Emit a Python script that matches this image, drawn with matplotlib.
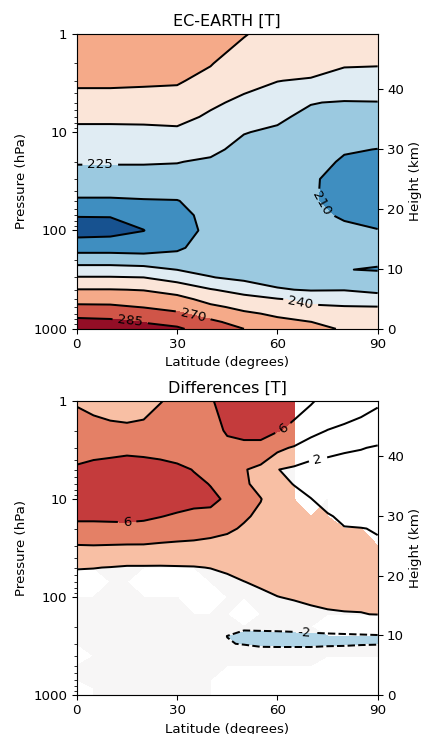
import numpy as np
import matplotlib
matplotlib.use('Agg')
import matplotlib.pyplot as plt

#### --------------------------------------------------- data

# EC-EARTH zonal mean temperature [K], one list per latitude (top -> bottom in pressure)
lat_t = [0, 10, 20, 30, 40, 50, 60, 70, 80, 90]
plev_t = [1, 2, 3, 5, 7, 10, 15, 20, 30, 50, 70, 100, 150, 200, 250, 300, 400, 500, 600, 700, 850, 1000]

t_lat0 = [265, 262, 257, 250, 243, 236, 231, 226, 219, 208, 195.5, 190, 204, 220, 230, 241, 255.5, 265, 273, 281, 289, 294]
t_lat10 = [265, 262, 257, 250, 243, 236, 231, 226, 219, 208, 195.5, 191, 204, 220, 230, 241, 255.5, 265, 272.5, 280, 288, 293]
t_lat20 = [264, 261, 256.5, 250, 243, 236.5, 231, 226, 219, 209, 198, 194.8, 203, 219, 229, 240, 254.5, 262, 269.5, 277, 284.5, 289]
t_lat30 = [263, 260, 256, 250, 244, 237, 230, 225.5, 219, 209.5, 205, 203, 208, 216, 224.8, 234, 250.5, 259, 266, 272, 281, 287]
t_lat40 = [259, 255.5, 252, 242, 238, 234, 228, 223, 218, 216, 215, 214, 216, 219, 222, 225.5, 241, 251, 257.5, 264, 273, 278]
t_lat50 = [255.5, 250, 243, 237.5, 232, 225.5, 221, 219, 217, 216, 216, 216.5, 217.5, 218.5, 220, 222, 234, 246, 252, 257, 264, 270]
t_lat60 = [252, 245, 240.2, 234, 227, 223, 220, 218, 216, 215, 215, 215.5, 216, 217, 219, 221, 226, 241, 247, 253, 258, 263]
t_lat70 = [250, 244, 239, 225.5, 222, 219, 216.5, 214.5, 211.5, 211, 212, 213, 214, 215, 216.5, 219, 224, 236, 242, 247, 255.1, 258]
t_lat80 = [248, 241, 236, 224, 220, 216, 211, 208.5, 206, 206.5, 209, 212, 213, 213, 210.2, 215, 224.5, 233, 241, 244, 250, 254]
t_lat90 = [246, 241, 234, 224.5, 219, 214, 209.8, 206, 203, 203.5, 206, 210.5, 212, 211, 209.5, 213, 222, 231, 240.5, 245, 249, 251]

t_levels = [180, 195, 210, 225, 240, 255, 270, 285, 300]
t_labelled = [210, 225, 240, 270, 285]

# differences [K], one row per pressure level
lat_d = [0, 5, 10, 15, 20, 25, 30, 35, 40, 45, 50, 55, 60, 65, 70, 75, 80, 85, 90]
plev_d = [1, 2, 3, 5, 7, 10, 15, 20, 30, 50, 70, 100, 150, 200, 250, 300, 400, 500, 700, 850, 1000]

diff = [
    [3.9, 3.6, 3.3, 3.2, 3.4, 3.95, 4.3, 4.8, 5.85, 6.6, 7.0, 7.0, 6.8, 6.5, 6.15, 5.5, 5.0, 4.6, 4.2],
    [4.6, 4.6, 4.5, 4.4, 4.5, 4.8, 5.0, 5.3, 5.5, 6.15, 6.4, 6.4, 6.1, 5.6, 4.6, 3.95, 3.6, 3.3, 3.0],
    [5.2, 5.5, 5.6, 5.7, 5.6, 5.55, 5.4, 5.6, 5.3, 5.6, 5.6, 5.6, 4.4, 3.8, 2.9, 2.6, 2.3, 2.1, 1.8],
    [6.3, 6.5, 6.6, 6.7, 6.7, 6.5, 6.3, 5.95, 5.5, 5.0, 4.15, 3.4, 2.05, 1.6, 1.2, 1.0, 0.8, 0.7, 0.6],
    [6.8, 6.9, 7.0, 7.1, 7.0, 6.9, 6.7, 6.3, 5.95, 5.3, 4.2, 3.6, 2.4, 1.95, 1.4, 0.9, 0.6, 0.5, 0.4],
    [7.0, 7.1, 7.2, 7.3, 7.2, 7.0, 6.6, 6.3, 6.3, 5.8, 4.4, 4.05, 3.2, 2.5, 2.05, 1.3, 0.8, 0.6, 0.5],
    [6.3, 6.3, 6.35, 6.4, 6.3, 6.05, 5.8, 5.7, 5.6, 5.2, 4.2, 3.7, 3.3, 3.0, 2.8, 2.2, 1.6, 1.4, 1.2],
    [5.5, 5.5, 5.5, 5.5, 5.4, 5.2, 5.0, 4.9, 4.7, 4.3, 3.8, 3.3, 3.1, 2.9, 2.9, 2.6, 2.1, 2.05, 1.9],
    [3.9, 3.95, 3.9, 3.85, 3.85, 3.7, 3.6, 3.5, 3.3, 3.2, 3.0, 2.9, 2.8, 2.7, 2.7, 2.6, 2.4, 2.3, 2.2],
    [2.1, 2.05, 1.95, 1.8, 1.8, 1.8, 1.85, 1.9, 2.05, 2.2, 2.4, 2.5, 2.5, 2.5, 2.6, 2.5, 2.5, 2.4, 2.4],
    [1.2, 1.2, 1.2, 1.1, 1.0, 1.0, 1.0, 1.0, 1.1, 1.7, 1.98, 2.2, 2.3, 2.35, 2.5, 2.5, 2.5, 2.4, 2.4],
    [0.6, 0.6, 0.6, 0.6, 0.5, 0.5, 0.5, 0.5, 0.6, 1.0, 1.2, 1.7, 1.98, 2.1, 2.3, 2.4, 2.4, 2.3, 2.3],
    [0.4, 0.4, 0.3, 0.3, 0.3, 0.3, 0.3, 0.3, 0.4, 0.5, 0.5, 1.0, 1.2, 1.5, 1.6, 1.8, 1.9, 1.95, 2.05],
    [0.2, 0.2, 0.2, 0.2, 0.1, 0.1, 0.0, 0.0, -0.3, -0.8, -1.5, -1.4, -1.3, -1.2, -1.0, -0.8, -0.7, -0.6, -0.5],
    [0.1, 0.1, 0.1, 0.0, 0.0, -0.1, -0.1, -0.3, -1.2, -2.02, -2.8, -2.8, -2.8, -2.7, -2.6, -2.5, -2.4, -2.3, -2.2],
    [0.1, 0.1, 0.0, 0.0, 0.0, -0.1, -0.2, -0.3, -1.1, -1.9, -2.1, -2.4, -2.4, -2.4, -2.4, -2.3, -2.25, -2.15, -2.1],
    [0.2, 0.2, 0.1, 0.1, 0.1, 0.0, 0.0, -0.1, -0.4, -0.6, -0.5, -0.6, -0.7, -0.7, -0.7, -0.6, -0.6, -0.5, -0.5],
    [0.3, 0.3, 0.2, 0.2, 0.2, 0.1, 0.1, 0.0, -0.1, -0.2, -0.2, -0.3, -0.3, -0.3, -0.3, -0.3, -0.2, -0.2, -0.2],
    [0.4, 0.4, 0.3, 0.3, 0.3, 0.2, 0.2, 0.2, 0.2, 0.1, 0.1, 0.0, 0.0, 0.0, 0.0, 0.0, 0.1, 0.1, 0.1],
    [0.5, 0.5, 0.4, 0.4, 0.4, 0.3, 0.3, 0.3, 0.3, 0.2, 0.2, 0.1, 0.1, 0.1, 0.1, 0.1, 0.2, 0.2, 0.2],
    [0.6, 0.6, 0.5, 0.5, 0.5, 0.4, 0.4, 0.4, 0.4, 0.3, 0.3, 0.2, 0.2, 0.2, 0.2, 0.2, 0.3, 0.3, 0.3],
]

# points left blank (white) in the difference fill, 1 = masked
diff_mask = [
    "0000000000000011111",
    "0000000000000011111",
    "0000000000000011111",
    "0000000000000011111",
    "0000000000000011111",
    "0000000000000010111",
    "0000000000000000111",
    "0000000000000000001",
    "0000000000000000000",
    "0000000000000000000",
    "1100111100000000000",
    "0000000110000000000",
    "0000000000100000000",
    "0000000000000001111",
    "0000000000000000000",
    "0000000000000000000",
    "1000000000000000000",
    "0000000000000001111",
    "0000000001111111111",
    "1000000001111111111",
    "1000000001111111111",
]

d_levels = [-10, -8, -6, -4, -2, 2, 4, 6, 8, 10]
d_labelled = [-2, 2, 6]

#### --------------------------------------------------- plotting

def pressure_axes(ax, title):
    ax.set_yscale('log')
    ax.set_ylim(1000, 1)
    ax.set_xlim(0, 90)
    ax.set_xticks([0, 30, 60, 90])
    ax.set_yticks([1, 10, 100, 1000])
    ax.set_yticklabels(['1', '10', '100', '1000'])
    ax.set_xlabel('Latitude (degrees)')
    ax.set_ylabel('Pressure (hPa)')
    ax.set_title(title)
    ax2 = ax.twinx()
    ax2.set_ylim(0, 49.2)
    ax2.set_yticks([0, 10, 20, 30, 40])
    ax2.set_ylabel('Height (km)')
    return ax2

def draw_lines(ax, x, y, z, levels, labelled, spots):
    plain = [l for l in levels if l not in labelled]
    ax.contour(x, y, z, levels=plain, colors='k', linewidths=1.5)
    cs = ax.contour(x, y, z, levels=labelled, colors='k', linewidths=1.5)
    ax.clabel(cs, fmt='%d', fontsize=10, inline=True, manual=spots)

fig = plt.figure(figsize=(422/96.0, 734/96.0), dpi=96)

# top panel
temp = np.array([t_lat0, t_lat10, t_lat20, t_lat30, t_lat40,
                 t_lat50, t_lat60, t_lat70, t_lat80, t_lat90]).T

ax = fig.add_axes([0.182, 0.552, 0.713, 0.402])
pressure_axes(ax, 'EC-EARTH [T]')
ax.contourf(lat_t, plev_t, temp, levels=t_levels, cmap='RdBu_r')
draw_lines(ax, lat_t, plev_t, temp, t_levels, t_labelled,
           [(7, 20), (74, 50), (67, 530), (35, 680), (16, 820)])

# bottom panel
dvals = np.array(diff)
dmask = np.array([[c == '1' for c in row] for row in diff_mask])

ax = fig.add_axes([0.182, 0.0531, 0.713, 0.4005])
pressure_axes(ax, 'Differences [T]')
ax.contourf(lat_d, plev_d, np.ma.masked_array(dvals, dmask), levels=d_levels,
            cmap='RdBu_r', corner_mask=True)
draw_lines(ax, lat_d, plev_d, dvals, d_levels, d_labelled,
           [(15, 16.5), (62, 1.95), (72, 3.7), (68, 240)])

plt.savefig('out.png', dpi=96)
